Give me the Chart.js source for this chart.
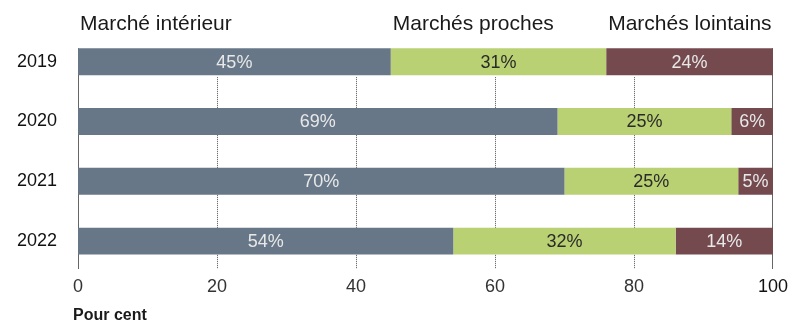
<!DOCTYPE html>
<html>
<head>
<meta charset="utf-8">
<script src="https://cdn.jsdelivr.net/npm/chart.js@4/dist/chart.umd.min.js"></script>
<style>
  html, body { margin: 0; padding: 0; background: #fff; }
  #wrap { width: 793px; height: 322px; }
</style>
</head>
<body>
<div id="wrap"><canvas id="marketsChart"></canvas></div>
<script>
const years = ["2019", "2020", "2021", "2022"];
const interieur = [45, 69, 70, 54];
const proches = [31, 25, 25, 32];
const lointains = [24, 6, 5, 14];
const seriesNames = ["Marché intérieur", "Marchés proches", "Marchés lointains"];
const xTicks = [0, 20, 40, 60, 80, 100];

const FONT = "'Liberation Sans', Arial, Helvetica, sans-serif";
const colors = ["#677788", "#b9d173", "#744a4f"];
const labelColors = ["#e8e8e8", "#2a2a2a", "#e8e8e8"];

// grille pointillée + axes 0 et 100, étiquettes, légende en haut
const decor = {
    id: "decor",
    beforeDatasetsDraw(chart) {
        const { ctx, chartArea, scales } = chart;
        const first = chart.getDatasetMeta(0).data[0];
        const top = first.y - first.height / 2;
        const bottom = chartArea.bottom - 2;
        ctx.save();
        ctx.lineWidth = 1;
        ctx.strokeStyle = "#555";
        ctx.setLineDash([1, 1]);
        xTicks.slice(1, -1).forEach((v) => {
            const x = Math.round(scales.x.getPixelForValue(v)) + 0.5;
            ctx.beginPath();
            ctx.moveTo(x, top + first.height + 2);
            ctx.lineTo(x, bottom);
            ctx.stroke();
        });
        ctx.setLineDash([]);
        ctx.strokeStyle = "#666";
        [0, 100].forEach((v) => {
            const x = Math.round(scales.x.getPixelForValue(v)) + (v === 0 ? 0.5 : -0.5);
            ctx.beginPath();
            ctx.moveTo(x, top);
            ctx.lineTo(x, bottom);
            ctx.stroke();
        });
        ctx.restore();
    },
    afterDatasetsDraw(chart) {
        const { ctx, chartArea } = chart;
        ctx.save();
        ctx.font = "18px " + FONT;
        ctx.textAlign = "center";
        ctx.textBaseline = "middle";
        chart.data.datasets.forEach((ds, i) => {
            chart.getDatasetMeta(i).data.forEach((bar, j) => {
                const { x, base, y } = bar.getProps(["x", "base", "y"], true);
                ctx.fillStyle = labelColors[i];
                ctx.fillText(ds.data[j] + "%", (x + base) / 2, y + 1);
            });
        });

        // légende : texte au début de chaque segment 2019
        ctx.font = "21px " + FONT;
        ctx.fillStyle = "#1a1a1a";
        ctx.textAlign = "left";
        ctx.textBaseline = "alphabetic";
        chart.data.datasets.forEach((ds, i) => {
            const bar = chart.getDatasetMeta(i).data[0];
            ctx.fillText(seriesNames[i], bar.base + 2, 30);
        });

        ctx.font = "bold 16px " + FONT;
        ctx.fillText("Pour cent", chartArea.left - 5, 320);
        ctx.restore();
    },
};

const seriesData = [interieur, proches, lointains];
const datasets = seriesNames.map((name, k) => ({
    label: name,
    data: seriesData[k],
    backgroundColor: colors[k],
    borderWidth: 0,
    barPercentage: 0.45,
    categoryPercentage: 1,
}));

new Chart(document.getElementById("marketsChart"), {
    type: "bar",
    data: { labels: years, datasets },
    plugins: [decor],
    options: {
        indexAxis: "y",
        responsive: true,
        maintainAspectRatio: false,
        animation: false,
        layout: { padding: { top: 31, right: 20, left: 0, bottom: 0 } },
        plugins: { legend: { display: false }, tooltip: { enabled: false } },
        scales: {
            x: {
                stacked: true,
                min: 0,
                max: 100,
                afterBuildTicks(scale) {
                    scale.ticks = xTicks.map((v) => ({ value: v }));
                },
                afterFit(scale) { scale.height = 51; },
                grid: { display: false, drawTicks: false },
                border: { display: false },
                ticks: {
                    padding: 5,
                    color: (c) => (c.tick.value === 100 ? "#111" : "#333"),
                    font: { family: FONT, size: 18 },
                },
            },
            y: {
                stacked: true,
                afterFit(scale) { scale.width = 78; },
                grid: { display: false, drawTicks: false },
                border: { display: false },
                ticks: {
                    padding: 21,
                    color: "#111",
                    font: { family: FONT, size: 18 },
                },
            },
        },
    },
});
</script>
</body>
</html>
